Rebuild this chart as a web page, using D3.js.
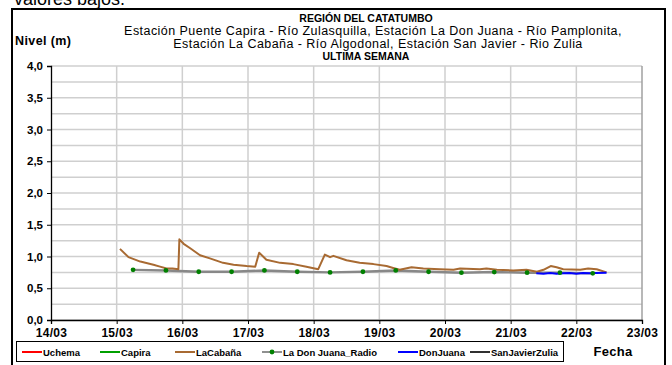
<!DOCTYPE html>
<html>
<head>
<meta charset="utf-8">
<script src="https://cdn.jsdelivr.net/npm/d3@7"></script>
<style>
  html, body { margin: 0; padding: 0; background: #fff; }
  svg { display: block; font-family: "Liberation Sans", Arial, sans-serif; }
</style>
</head>
<body>
<svg id="chart" width="672" height="365"></svg>
<script>
// Axis ticks
const dayTicks = [14, 15, 16, 17, 18, 19, 20, 21, 22, 23];
const levelTicks = [0, 0.5, 1, 1.5, 2, 2.5, 3, 3.5, 4];
const levelGrid = d3.range(0, 4.01, 0.25);

// Series: time as day of March (fractional), level in metres
const cabanaTimes = [15.05, 15.18, 15.36, 15.56, 15.66, 15.76, 15.85, 15.94, 15.955, 16.02, 16.12, 16.27, 16.42, 16.62, 16.78, 16.98, 17.11, 17.17, 17.28, 17.49, 17.69, 17.89, 18.07, 18.17, 18.25, 18.30, 18.50, 18.70, 18.91, 19.11, 19.21, 19.31, 19.49, 19.67, 19.92, 20.13, 20.23, 20.53, 20.63, 20.79, 21.04, 21.24, 21.40, 21.50, 21.61, 21.70, 21.80, 22.06, 22.18, 22.31, 22.46];
const cabanaValues = [1.12, 0.99, 0.92, 0.87, 0.84, 0.81, 0.81, 0.80, 1.27, 1.20, 1.13, 1.02, 0.97, 0.90, 0.87, 0.85, 0.84, 1.06, 0.95, 0.90, 0.88, 0.84, 0.80, 1.03, 0.99, 1.01, 0.94, 0.90, 0.88, 0.85, 0.82, 0.79, 0.83, 0.81, 0.80, 0.79, 0.81, 0.80, 0.81, 0.79, 0.78, 0.79, 0.76, 0.79, 0.85, 0.83, 0.80, 0.79, 0.81, 0.80, 0.75];

const radioTimes = [15.25, 15.75, 16.25, 16.75, 17.25, 17.75, 18.25, 18.75, 19.25, 19.75, 20.25, 20.75, 21.25, 21.75, 22.25];
const radioValues = [0.79, 0.78, 0.76, 0.76, 0.78, 0.76, 0.75, 0.76, 0.78, 0.76, 0.745, 0.755, 0.745, 0.745, 0.735];

const donJuanaTimes = [21.39, 21.5, 21.6, 21.7, 21.8, 21.9, 22.0, 22.1, 22.2, 22.3, 22.46];
const donJuanaValues = [0.735, 0.73, 0.74, 0.73, 0.735, 0.74, 0.73, 0.74, 0.735, 0.74, 0.745];

const legendNames = ["Uchema", "Capira", "LaCabaña", "La Don Juana_Radio", "DonJuana", "SanJavierZulia"];
const legendColors = ["#ff0000", "#00a000", "#a86a32", "#909090", "#0000ff", "#303030"];

const svg = d3.select("#chart");
const plot = { left: 51, right: 642, top: 66, bottom: 320 };

const x = d3.scaleLinear().domain([14, 23]).range([plot.left, plot.right]);
const y = d3.scaleLinear().domain([0, 4]).range([plot.bottom, plot.top]);

// text running above the frame
svg.append("text").attr("x", 14).attr("y", 5)
  .attr("font-size", 18).attr("fill", "#000").text("valores bajos.");

// outer chart frame
svg.append("rect").attr("x", 12).attr("y", 9).attr("width", 653).attr("height", 370)
  .attr("fill", "#fff").attr("stroke", "#000").attr("stroke-width", 2);

// titles
const titles = [
  { t: "REGIÓN DEL CATATUMBO", y: 22, bold: true, cx: 366, size: 10.5, ls: 0 },
  { t: "Estación Puente Capira - Río Zulasquilla, Estación La Don Juana - Río Pamplonita,", y: 35, bold: false, cx: 373, size: 12.5, ls: 0.45 },
  { t: "Estación La Cabaña - Río Algodonal, Estación San Javier - Rio Zulia", y: 48, bold: false, cx: 378, size: 12.5, ls: 0.45 },
  { t: "ULTIMA SEMANA", y: 60, bold: true, cx: 366, size: 10.5, ls: 0 }
];
svg.selectAll("text.title").data(titles).join("text")
  .attr("class", "title")
  .attr("x", d => d.cx).attr("y", d => d.y)
  .attr("text-anchor", "middle")
  .attr("font-size", d => d.size)
  .attr("letter-spacing", d => d.ls)
  .attr("font-weight", d => d.bold ? "bold" : "normal")
  .text(d => d.t);

svg.append("text").attr("x", 15).attr("y", 45)
  .attr("font-size", 12.5).attr("letter-spacing", 0.4).attr("font-weight", "bold").text("Nivel (m)");

// gridlines
const grid = svg.append("g");
grid.selectAll("line.h").data(levelGrid).join("line")
  .attr("x1", plot.left).attr("x2", plot.right)
  .attr("y1", d => y(d)).attr("y2", d => y(d))
  .attr("stroke", "#cfcfcf").attr("stroke-width", 1.5);
grid.selectAll("line.v").data(dayTicks.slice(1)).join("line")
  .attr("x1", d => x(d)).attr("x2", d => x(d))
  .attr("y1", plot.top).attr("y2", plot.bottom)
  .attr("stroke", d => d === 23 ? "#a0a0a0" : "#cfcfcf").attr("stroke-width", 1.5);

// axes
const yAxis = d3.axisLeft(y).tickValues(levelTicks).tickSize(4).tickPadding(4)
  .tickFormat(d => d3.format(".1f")(d).replace(".", ","));
const gy = svg.append("g").attr("transform", `translate(${plot.left},0)`).call(yAxis);
const xAxis = d3.axisBottom(x).tickValues(dayTicks).tickSize(4).tickPadding(4)
  .tickFormat(d => d3.format("02d")(d) + "/03");
const gx = svg.append("g").attr("transform", `translate(0,${plot.bottom})`).call(xAxis);
[gx, gy].forEach(g => {
  g.select(".domain").attr("stroke", "#000").attr("stroke-width", 1.3);
  g.selectAll(".tick line").attr("stroke", "#000");
  g.selectAll(".tick text").attr("font-size", 11.5).attr("font-weight", "bold")
    .attr("font-family", "Liberation Sans, Arial, sans-serif").attr("fill", "#000");
});
gx.selectAll(".tick text").attr("font-size", 12).attr("letter-spacing", 0.3);

// series lines
const line = d3.line().x(d => x(d[0])).y(d => y(d[1]));
const radio = d3.zip(radioTimes, radioValues);
svg.append("path").datum(radio).attr("d", line)
  .attr("fill", "none").attr("stroke", "#888888").attr("stroke-width", 2.4);
svg.append("path").datum(d3.zip(cabanaTimes, cabanaValues)).attr("d", line)
  .attr("fill", "none").attr("stroke", "#a86a32").attr("stroke-width", 2).attr("stroke-linejoin", "round");
svg.append("path").datum(d3.zip(donJuanaTimes, donJuanaValues)).attr("d", line)
  .attr("fill", "none").attr("stroke", "#0000ff").attr("stroke-width", 2);
svg.selectAll("circle.radio").data(radio).join("circle")
  .attr("cx", d => x(d[0])).attr("cy", d => y(d[1])).attr("r", 2.4)
  .attr("fill", "#008000");

// legend
svg.append("rect").attr("x", 16.5).attr("y", 341.5).attr("width", 547).attr("height", 20)
  .attr("fill", "#fff").attr("stroke", "#000").attr("stroke-width", 1);
const legendX = [22, 100, 175, 262, 398, 470];
const lg = svg.append("g");
legendNames.forEach((name, i) => {
  const lx = legendX[i];
  lg.append("line").attr("x1", lx).attr("x2", lx + 20).attr("y1", 352).attr("y2", 352)
    .attr("stroke", legendColors[i]).attr("stroke-width", 2);
  if (name === "La Don Juana_Radio") {
    lg.append("circle").attr("cx", lx + 10).attr("cy", 352).attr("r", 2.4).attr("fill", "#008000");
  }
  lg.append("text").attr("x", lx + 21).attr("y", 355.5)
    .attr("font-size", 9.5).attr("font-weight", "bold").text(name);
});
svg.append("text").attr("x", 613).attr("y", 356).attr("text-anchor", "middle")
  .attr("font-size", 13).attr("letter-spacing", 0.3).attr("font-weight", "bold").text("Fecha");
</script>
</body>
</html>
